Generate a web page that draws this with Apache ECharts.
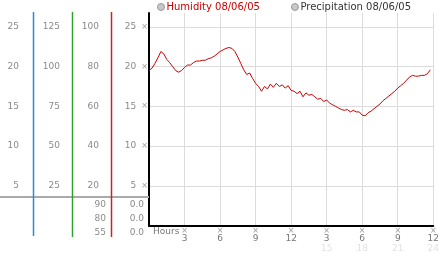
<!DOCTYPE html>
<html><head><meta charset="utf-8">
<script src="https://cdn.jsdelivr.net/npm/echarts@6/dist/echarts.min.js"></script>
<style>html,body{margin:0;padding:0;background:#fff}#c{width:442px;height:253px}</style>
</head><body><div id="c"></div>
<script>
// Humidity readings every 15 minutes, 00:00 .. 23:45
const humidity = [
  19.5, 19.8, 20.4, 21.1, 21.9, 21.6, 20.9, 20.5, 20.0, 19.5, 19.3, 19.5,
  19.9, 20.2, 20.2, 20.5, 20.7, 20.7, 20.8, 20.8, 21.0, 21.1, 21.3, 21.6,
  21.9, 22.1, 22.3, 22.4, 22.3, 21.9, 21.2, 20.4, 19.6, 19.0, 19.2, 18.5,
  17.9, 17.5, 16.9, 17.5, 17.2, 17.8, 17.4, 17.9, 17.5, 17.7, 17.3, 17.6,
  17.0, 16.9, 16.6, 16.9, 16.2, 16.7, 16.4, 16.5, 16.2, 15.9, 16.0, 15.6,
  15.8, 15.4, 15.2, 15.0, 14.8, 14.6, 14.5, 14.6, 14.3, 14.5, 14.3, 14.3,
  13.9, 13.8, 14.2, 14.4, 14.7, 15.0, 15.3, 15.7, 16.0, 16.3, 16.6, 16.9,
  17.3, 17.6, 17.9, 18.3, 18.7, 18.9, 18.8, 18.8, 18.9, 18.9, 19.1, 19.6
];
const precipitation = [];
const hourStep = 0.25;
const hours = humidity.map((_, i) => i * hourStep);

const legendNames = ['Humidity 08/06/05', 'Precipitation 08/06/05'];
const xAxisTitle = 'Hours';
const xTickLabels = {3: '3', 6: '6', 9: '9', 12: '12', 15: '3', 18: '6', 21: '9', 24: '12'};
const xSecondRow = {15: '15', 18: '18', 21: '21', 24: '24'};
const yMain = {min: 0, max: 26.75, interval: 5};      // 5..25
const yCol2 = {min: 0, max: 133.75, interval: 25};    // 25..125
const yCol3 = {min: 0, max: 107, interval: 20};       // 20..100
const lowerColA = ['90', '80', '55'];
const lowerColB = ['0.0', '0.0', '0.0'];

const FONT = 'DejaVu Sans';
const chart = echarts.init(document.getElementById('c'), null, {renderer: 'canvas'});

function sideAxis(cfg, offset, withMark) {
  return {
    type: 'value', position: 'left', gridIndex: 0,
    min: cfg.min, max: cfg.max, interval: cfg.interval, offset: offset,
    axisLine: {show: false}, axisTick: {show: false},
    splitLine: {show: withMark, showMaxLine: false, showMinLine: false, lineStyle: {color: '#dcdcdc', width: 1}},
    axisLabel: {
      margin: withMark ? 1 : 4, showMaxLabel: false, showMinLabel: false,
      fontFamily: FONT, fontSize: 9, color: '#8a8a8a',
      formatter: v => {
        if (v <= 0 || Math.abs(v / cfg.interval - Math.round(v / cfg.interval)) > 1e-6) return '';
        return withMark ? '{v|' + v + '}{m|×}' : '{v|' + v + '}';
      },
      rich: {
        v: {fontFamily: FONT, fontSize: 9, color: '#8a8a8a'},
        m: {fontFamily: FONT, fontSize: 8, color: '#999', padding: [0, 0, 0, 5]}
      }
    }
  };
}

const lineG = (x1, y1, x2, y2, color, w) => ({type: 'line', silent: true, z: 100, shape: {x1, y1, x2, y2}, style: {stroke: color, lineWidth: w, fill: null}});
const txt = (x, y, t, align, color) => ({type: 'text', silent: true, x: x, y: y, style: {text: t, fill: color || '#8a8a8a', font: '9px "' + FONT + '"', textAlign: align || 'right', textVerticalAlign: 'middle'}});

const graphics = [
  lineG(0, 197, 149, 197, '#aaaaaa', 2),
  lineG(33.5, 12, 33.5, 236, '#1f8fd6', 1.5),
  lineG(72.5, 12, 72.5, 237, '#2ea02e', 1.5),
  lineG(111.5, 12, 111.5, 237, '#cc2222', 1.5)
];
lowerColA.forEach((t, i) => graphics.push(txt(106, 205 + i * 14, t)));
lowerColB.forEach((t, i) => graphics.push(txt(144, 205 + i * 14, t)));
graphics.push(txt(153, 232, xAxisTitle, 'left', '#777'));

chart.setOption({
  animation: false,
  backgroundColor: '#fff',
  grid: {left: 149, right: 4, top: 13, bottom: 26, containLabel: false},
  legend: {
    left: 157, top: 2, padding: 0, itemWidth: 7, itemHeight: 7, itemGap: 31,
    textStyle: {fontFamily: FONT, fontSize: 10, padding: [0, 0, 0, -3]},
    data: [
      {name: legendNames[0], icon: 'circle', itemStyle: {color: '#c8c8c8', borderColor: '#999', borderWidth: 1}, textStyle: {color: '#cc0000'}},
      {name: legendNames[1], icon: 'circle', itemStyle: {color: '#c8c8c8', borderColor: '#999', borderWidth: 1}, textStyle: {color: '#333'}}
    ]
  },
  xAxis: {
    type: 'value', min: 0, max: 24, interval: 3,
    axisLine: {show: true, onZero: false, lineStyle: {color: '#000', width: 2}},
    axisTick: {show: false},
    splitLine: {show: true, showMinLine: false, lineStyle: {color: '#dcdcdc', width: 1}},
    axisLabel: {
      margin: 2, showMinLabel: false, showMaxLabel: true, hideOverlap: false,
      formatter: v => {
        if (!xTickLabels[v]) return '';
        let s = '{m|×}\n{n|' + xTickLabels[v] + '}';
        if (xSecondRow[v]) s += '\n{f|' + xSecondRow[v] + '}';
        return s;
      },
      rich: {
        m: {fontFamily: FONT, fontSize: 8, color: '#999', lineHeight: 7},
        n: {fontFamily: FONT, fontSize: 9, color: '#777', lineHeight: 9},
        f: {fontFamily: FONT, fontSize: 9, color: '#e2e2e2', lineHeight: 10}
      }
    }
  },
  yAxis: [
    Object.assign(sideAxis(yMain, 0, true), {axisLine: {show: true, lineStyle: {color: '#000', width: 2}}}),
    sideAxis(yCol2, 85, false),
    sideAxis(yCol3, 46, false),
    sideAxis(yMain, 126, false)
  ],
  series: [
    {name: legendNames[0], type: 'line', yAxisIndex: 0, showSymbol: false, symbol: 'none',
     data: hours.map((h, i) => [h, humidity[i]]),
     lineStyle: {color: '#cc0000', width: 1}, itemStyle: {color: '#cc0000'}},
    {name: legendNames[1], type: 'line', yAxisIndex: 0, showSymbol: false, data: precipitation,
     lineStyle: {color: '#3399cc', width: 1}}
  ],
  graphic: graphics
});
</script></body></html>
